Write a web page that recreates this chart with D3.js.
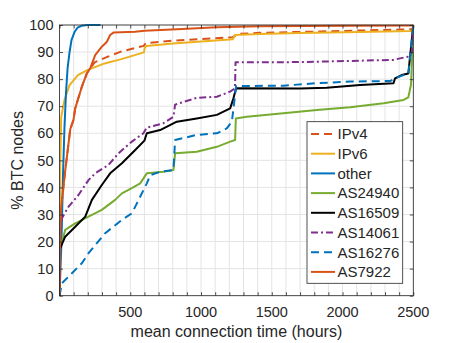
<!DOCTYPE html>
<html><head><meta charset="utf-8">
<script src="https://cdn.jsdelivr.net/npm/d3@7"></script>
<style>body{margin:0;background:#fff}svg{display:block}text{font-family:"Liberation Sans",Arial,sans-serif;fill:#262626}</style>
</head><body><svg id="c" width="457" height="343"></svg>
<script>
// ---- data (mean connection time in hours, % BTC nodes) ----
const ipv4 = [[0,0],[3,18],[10,32],[21,37],[40,46],[76,61.5],[99,65],[111,69.2],[158,77.2],[194,82.2],[217,84],[250,86.3],[342,88.3],[425,90],[595,92.3],[610,93.3],[800,94.2],[1225,95.5],[1260,96.7],[1416,97.1],[1840,97.6],[2408,98.3],[2495,98.5],[2500,100]];
const ipv6 = [[0,0],[2,30],[6,50],[12,66],[35,72.3],[71,77.8],[130,81.5],[200,83.4],[319,85.8],[437,87.4],[597,89.9],[602,91.6],[614,92.2],[802,93.2],[1225,94.7],[1239,96.3],[1416,96.7],[1700,97.0],[2125,97.4],[2479,97.8],[2495,98],[2500,100]];
const other = [[0,0],[14,20],[25,45],[35,62],[46,75],[57,84],[71,90],[85,94.5],[106,97.4],[127,99],[156,99.7],[198,100],[290,100]];
const as24940 = [[0,0],[1,17],[19,20],[40,24.3],[111,26.7],[205,29.2],[299,31.7],[393,35.4],[441,37.8],[511,39.7],[570,41.5],[617,45.2],[734,45.8],[805,46.4],[817,52.6],[970,53.2],[1112,55],[1206,56.9],[1241,57.5],[1246,65.5],[1323,66.1],[1582,67.4],[1818,68.6],[2053,69.6],[2290,71.1],[2431,72.3],[2465,73.3],[2484,78],[2500,100]];
const as16509 = [[0,0],[0.5,16.9],[40,21.8],[111,25.5],[182,29.2],[229,35.4],[299,40.9],[358,45.2],[441,48.9],[535,53.8],[600,57.3],[617,60],[711,61.2],[829,64.3],[970,65.5],[1112,66.8],[1206,69.2],[1229,72.9],[1248,76.6],[1700,76.5],[1888,76.8],[2124,77.8],[2360,78.5],[2371,80.3],[2418,81.5],[2465,82.1],[2500,100]];
const as14061 = [[0,0],[1,23],[3,24.3],[17,28.6],[64,32.9],[134,37.2],[205,42.7],[252,45.2],[346,48.3],[417,52.6],[511,56.9],[593,60],[617,62.1],[734,63.7],[805,66.1],[817,70.6],[970,73.1],[1112,73.5],[1205,75.4],[1240,76.6],[1244,86.2],[1700,86.3],[2357,87.1],[2462,88.3],[2490,90],[2500,100]];
const as16276 = [[0,0],[17,4.6],[88,8.3],[158,12],[205,15.7],[264,19.4],[323,23.1],[381,25.5],[441,28],[511,30.4],[547,34.1],[593,39],[617,41.5],[641,44.5],[711,45.8],[805,46.4],[817,57.5],[970,59.4],[1112,60],[1182,61.8],[1218,64.3],[1248,77.4],[1582,77.6],[1818,78.5],[2053,79.1],[2336,79.3],[2371,80.3],[2430,81.5],[2465,81.8],[2500,100]];
const as7922 = [[0,0],[3,18],[10,32],[21,37],[40,46],[76,61.5],[99,65],[111,69.2],[158,77.2],[194,82.2],[217,84],[252,88.9],[299,92],[335,93.8],[358,96.3],[381,97.2],[535,97.5],[600,97.9],[829,98.4],[1112,99.2],[1417,99.5],[2052,99.7],[2495,99.8],[2500,100]];

const seriesNames = ["IPv4","IPv6","other","AS24940","AS16509","AS14061","AS16276","AS7922"];
const seriesData = [ipv4, ipv6, other, as24940, as16509, as14061, as16276, as7922];
const seriesColors = ["#D95319","#EDB120","#0072BD","#77AC30","#000000","#7E2F8E","#0072BD","#D95319"];
const seriesDash = ["8,5",null,null,null,null,"7,3,2,3","8,5",null];

const xLabels = [500,1000,1500,2000,2500];
const yTicks = [0,10,20,30,40,50,60,70,80,90,100];
const xTitle = "mean connection time (hours)";
const yTitle = "% BTC nodes";

// ---- layout ----
const L = 59.5, R = 413.3, T = 25, B = 295.7;
const svg = d3.select("#c");
const x = d3.scaleLinear().domain([0,2500]).range([L,R]);
const y = d3.scaleLinear().domain([0,100]).range([B,T]);
const minorX = d3.range(0,2501,100);

// grid
const g = svg.append("g");
g.selectAll("line.vx").data(minorX).enter().append("line")
  .attr("x1",d=>x(d)).attr("x2",d=>x(d)).attr("y1",T).attr("y2",B)
  .attr("stroke","#e4e4e4").attr("stroke-width",1);
g.selectAll("line.hy").data(yTicks).enter().append("line")
  .attr("x1",L).attr("x2",R).attr("y1",d=>y(d)).attr("y2",d=>y(d))
  .attr("stroke","#e4e4e4").attr("stroke-width",1);

// lines
svg.append("clipPath").attr("id","clip").append("rect").attr("x",L).attr("y",T-1).attr("width",R-L).attr("height",B-T+2);
const line = d3.line().x(d=>x(d[0])).y(d=>y(d[1]));
const lg = svg.append("g").attr("clip-path","url(#clip)");
seriesData.forEach((s,i)=>{
  lg.append("path").attr("d",line(s)).attr("fill","none")
    .attr("stroke",seriesColors[i]).attr("stroke-width",2)
    .attr("stroke-linejoin","round")
    .attr("stroke-dasharray",seriesDash[i]);
});

// axes box and ticks
const ac = "#262626";
svg.append("rect").attr("x",L).attr("y",T).attr("width",R-L).attr("height",B-T)
  .attr("fill","none").attr("stroke",ac).attr("stroke-width",0.8);
const xb = d3.axisBottom(x).tickValues(minorX).tickSize(-3.5).tickFormat("");
const xt = d3.axisTop(x).tickValues(minorX).tickSize(-3.5).tickFormat("");
const yl = d3.axisLeft(y).tickValues(yTicks).tickSize(-3.5).tickFormat("");
const yr = d3.axisRight(y).tickValues(yTicks).tickSize(-3.5).tickFormat("");
[[xb,`translate(0,${B})`],[xt,`translate(0,${T})`],[yl,`translate(${L},0)`],[yr,`translate(${R},0)`]].forEach(([a,t])=>{
  const gg = svg.append("g").attr("transform",t).call(a);
  gg.select(".domain").remove();
  gg.selectAll(".tick line").attr("stroke",ac).attr("stroke-width",0.8);
});

// tick labels
svg.selectAll("text.xl").data(xLabels).enter().append("text")
  .attr("x",d=>x(d)).attr("y",316.5).attr("text-anchor","middle")
  .style("font-size","14.5px").text(d=>d);
svg.selectAll("text.yl").data(yTicks).enter().append("text")
  .attr("x",53.5).attr("y",d=>y(d)+5.2).attr("text-anchor","end")
  .style("font-size","14.5px").text(d=>d);

// titles
svg.append("text").attr("x",(L+R)/2).attr("y",337).attr("text-anchor","middle")
  .style("font-size","16px").text(xTitle);
svg.append("text").attr("transform",`translate(23,${(T+B)/2}) rotate(-90)`)
  .attr("text-anchor","middle").style("font-size","16px").text(yTitle);

// legend
const lgX = 307, lgY = 121.7, lgW = 95.7, lgH = 161.6;
svg.append("rect").attr("x",lgX).attr("y",lgY).attr("width",lgW).attr("height",lgH)
  .attr("fill","#fff").attr("stroke",ac).attr("stroke-width",0.8);
seriesNames.forEach((n,i)=>{
  const yy = 134 + i*19.7;
  svg.append("line").attr("x1",311).attr("x2",335).attr("y1",yy).attr("y2",yy)
    .attr("stroke",seriesColors[i]).attr("stroke-width",2).attr("stroke-dasharray",seriesDash[i]);
  svg.append("text").attr("x",337.5).attr("y",yy+5.3).style("font-size","15px").text(n);
});
</script></body></html>
